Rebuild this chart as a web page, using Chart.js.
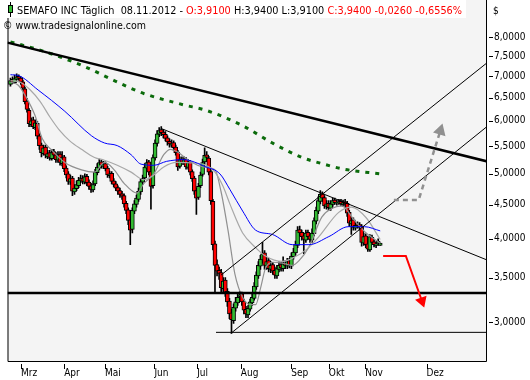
<!DOCTYPE html>
<html><head><meta charset="utf-8">
<script src="https://cdn.jsdelivr.net/npm/chart.js@4.4.1/dist/chart.umd.min.js"></script>
<style>html,body{margin:0;padding:0;background:#fff;}canvas{display:block;}</style>
</head><body>
<canvas id="c" width="530" height="380"></canvas>
<script>
// ---- data (bar index 0 = first session shown, ~20 Feb 2012; last = 08.11.2012) ----
const opens=[6.80,6.92,6.84,6.92,6.99,6.95,6.86,6.70,6.42,6.22,
5.92,6.02,5.86,5.95,5.70,5.52,5.36,5.48,5.30,5.38,
5.27,5.40,5.34,5.24,5.35,5.18,5.30,5.10,5.00,4.86,
4.93,4.70,4.75,4.80,4.88,4.93,4.86,4.96,4.86,4.80,
4.73,4.83,5.02,5.10,5.21,5.13,5.18,5.10,4.97,5.01,
4.88,4.83,4.77,4.72,4.67,4.64,4.52,4.42,4.27,4.13,
4.40,4.50,4.58,4.70,4.86,4.93,5.10,5.21,5.04,4.80,
5.28,5.55,5.73,5.82,5.77,5.73,5.66,5.59,5.52,5.57,
5.48,5.39,5.13,5.26,5.19,5.26,5.11,5.21,5.04,4.93,
4.72,4.61,4.80,4.99,5.21,5.34,5.28,5.04,4.55,3.93,
3.66,3.59,3.56,3.37,3.47,3.34,3.23,3.10,3.02,3.15,
3.21,3.28,3.31,3.23,3.14,3.08,3.14,3.21,3.26,3.39,
3.52,3.64,3.72,3.81,3.64,3.71,3.60,3.66,3.59,3.52,
3.60,3.66,3.61,3.68,3.64,3.71,3.64,3.76,3.81,3.91,
4.13,4.09,4.04,3.98,4.09,4.04,3.98,4.07,4.25,4.40,
4.55,4.67,4.61,4.47,4.52,4.44,4.50,4.57,4.52,4.53,
4.55,4.50,4.54,4.52,4.38,4.21,4.27,4.15,4.20,4.20,
4.17,3.94,4.04,3.93,3.85,4.02,3.96,3.91,3.94,3.91];
const highs=[6.95,6.98,7.02,7.05,7.03,6.98,6.90,6.74,6.48,6.26,
6.06,6.08,6.02,5.99,5.74,5.56,5.52,5.52,5.42,5.42,
5.44,5.44,5.38,5.40,5.40,5.40,5.33,5.14,5.04,4.98,
4.96,4.82,4.88,4.94,4.98,4.97,5.00,4.99,4.90,4.84,
4.88,5.08,5.18,5.26,5.24,5.22,5.21,5.13,5.05,5.04,
4.92,4.87,4.80,4.76,4.71,4.67,4.55,4.45,4.30,4.45,
4.56,4.65,4.76,4.92,4.98,5.18,5.25,5.24,5.08,5.34,
5.62,5.80,5.86,5.88,5.82,5.78,5.70,5.64,5.62,5.60,
5.52,5.42,5.30,5.30,5.30,5.29,5.25,5.24,5.07,4.96,
4.76,4.84,5.03,5.26,5.47,5.40,5.31,5.07,4.58,3.97,
3.72,3.63,3.60,3.50,3.50,3.37,3.26,3.14,3.20,3.27,
3.31,3.34,3.33,3.25,3.17,3.18,3.25,3.31,3.44,3.57,
3.70,3.78,3.95,3.84,3.75,3.74,3.70,3.69,3.63,3.65,
3.70,3.69,3.76,3.71,3.74,3.74,3.81,3.87,3.97,4.17,
4.18,4.12,4.08,4.12,4.12,4.07,4.14,4.30,4.46,4.62,
4.72,4.70,4.64,4.56,4.56,4.56,4.60,4.60,4.57,4.58,
4.58,4.57,4.58,4.55,4.41,4.31,4.30,4.23,4.24,4.23,
4.20,4.08,4.07,3.96,4.06,4.05,3.99,3.96,4.00,3.94];
const lows=[6.76,6.82,6.82,6.90,6.90,6.80,6.66,6.36,6.18,5.88,
5.88,5.84,5.82,5.64,5.44,5.30,5.33,5.28,5.27,5.24,
5.24,5.28,5.20,5.20,5.15,5.14,5.04,4.93,4.82,4.82,
4.64,4.66,4.72,4.77,4.85,4.83,4.83,4.80,4.74,4.69,
4.70,4.80,4.98,5.07,5.10,5.09,5.05,4.94,4.93,4.83,
4.78,4.72,4.66,4.61,4.58,4.46,4.36,4.20,3.92,4.08,
4.36,4.46,4.55,4.66,4.82,4.90,5.06,4.98,4.43,4.76,
5.24,5.50,5.68,5.70,5.66,5.60,5.52,5.48,5.48,5.42,
5.33,5.06,5.10,5.16,5.16,5.08,5.08,4.98,4.87,4.66,
4.35,4.58,4.77,4.96,5.17,5.24,4.98,4.50,3.85,3.32,
3.52,3.48,3.33,3.33,3.28,3.17,3.04,2.89,2.99,3.12,
3.18,3.24,3.18,3.09,3.05,3.05,3.12,3.18,3.24,3.36,
3.49,3.60,3.68,3.60,3.60,3.57,3.56,3.54,3.49,3.49,
3.57,3.58,3.58,3.61,3.61,3.62,3.61,3.73,3.78,3.88,
4.04,3.98,3.80,3.95,3.99,3.95,3.95,4.04,4.21,4.36,
4.51,4.55,4.44,4.43,4.41,4.41,4.47,4.50,4.49,4.50,
4.48,4.47,4.47,4.32,4.17,4.06,4.12,4.12,4.15,4.12,
3.90,3.91,3.88,3.83,3.83,3.92,3.89,3.88,3.91,3.91];
const closes=[6.89,6.85,6.94,6.98,6.94,6.85,6.71,6.41,6.24,5.94,
6.00,5.88,5.96,5.69,5.51,5.38,5.47,5.33,5.36,5.29,
5.38,5.33,5.25,5.34,5.20,5.29,5.09,4.98,4.87,4.92,
4.71,4.76,4.82,4.89,4.92,4.87,4.95,4.85,4.79,4.74,
4.82,5.03,5.12,5.20,5.15,5.17,5.09,4.98,5.00,4.87,
4.82,4.76,4.71,4.66,4.63,4.51,4.41,4.26,4.12,4.41,
4.51,4.60,4.71,4.87,4.92,5.12,5.20,5.03,4.79,5.29,
5.56,5.74,5.80,5.76,5.72,5.65,5.58,5.54,5.56,5.47,
5.38,5.12,5.25,5.20,5.25,5.12,5.20,5.03,4.92,4.71,
4.60,4.79,4.98,5.20,5.33,5.29,5.03,4.56,3.92,3.65,
3.58,3.55,3.38,3.46,3.33,3.22,3.09,3.03,3.16,3.22,
3.27,3.30,3.22,3.13,3.09,3.15,3.22,3.27,3.40,3.53,
3.65,3.73,3.80,3.65,3.70,3.61,3.65,3.58,3.53,3.61,
3.65,3.62,3.67,3.65,3.70,3.65,3.77,3.82,3.92,4.12,
4.08,4.03,3.99,4.08,4.03,3.99,4.08,4.26,4.41,4.56,
4.66,4.60,4.48,4.51,4.45,4.51,4.56,4.53,4.53,4.54,
4.51,4.53,4.51,4.37,4.22,4.26,4.16,4.19,4.19,4.16,
3.95,4.03,3.92,3.86,4.03,3.95,3.92,3.93,3.97,3.94];

// moving averages: [bar index, price]
const ma200=[[0,7.87],[16.7,7.61],[35.9,7.23],[50.2,6.89],[64.6,6.59],[83.7,6.34],[94.7,6.22],[112.4,5.90],[126.8,5.56],[141.1,5.29],[150.7,5.18],[161.7,5.08],[179,5.00]];
const ma50=[[0,7.03],[3.8,7.01],[13.4,6.67],[26.3,6.20],[39.2,5.70],[45.5,5.56],[51.7,5.51],[58.4,5.34],[63.2,5.17],[69.4,5.15],[75.6,5.22],[83.7,5.25],[94.7,5.12],[101.4,5.00],[106.2,4.74],[112.4,4.40],[118.7,4.12],[126.8,4.06],[136.4,3.92],[144.5,3.92],[154.1,4.03],[163.6,4.17],[171.3,4.17],[179,4.11]];
const ma20=[[0,6.89],[4.8,6.85],[9.6,6.67],[14.4,6.41],[19.1,6.08],[23.9,5.80],[28.7,5.60],[34.4,5.44],[40.7,5.29],[45.5,5.24],[51.7,5.15],[58.4,5.03],[64.6,4.90],[69.4,4.98],[74.2,5.12],[80.4,5.20],[88.5,5.19],[94.7,5.15],[99,5.03],[102.9,4.79],[106.2,4.51],[112.4,4.08],[118.7,3.88],[123.4,3.77],[131.6,3.70],[137.8,3.76],[143.5,3.86],[149.3,4.03],[158.9,4.38],[165.1,4.46],[172.2,4.30],[179,3.99]];
const ma10=[[0,6.85],[3.8,6.78],[7.2,6.54],[12,6.10],[15.3,5.65],[20.1,5.42],[26.3,5.20],[34.4,5.07],[40.7,5.03],[45.5,5.20],[50.2,5.07],[55,4.84],[61.2,4.68],[64.6,4.84],[69.4,5.00],[74.2,5.34],[77.5,5.44],[81.3,5.38],[86.1,5.24],[93.3,5.12],[99,5.07],[101.9,4.71],[105.3,4.12],[108.6,3.55],[112.4,3.27],[116.3,3.19],[118.7,3.19],[121.1,3.38],[123.4,3.61],[126.8,3.69],[131.6,3.68],[136.4,3.65],[139.7,3.71],[144.5,3.89],[150.7,4.31],[155.5,4.44],[160.3,4.48],[166.5,4.26],[172.2,4.08],[179,3.94]];

// drawn trend lines: [bar index, price]
const longDownTrend=[[-1.44,7.85],[230.6,5.22]];
const juneDownTrend=[[73.2,5.84],[230.6,3.72]];
const channelUpper=[[101.9,3.53],[230.6,7.32]];
const channelLower=[[106.7,2.89],[230.6,5.88]];
const supportThick=[[-1.44,3.32],[230.6,3.32]];
const supportLow=[[99.5,2.90],[230.6,2.90]];
const redArrow=[[180.4,3.77],[191.4,3.77],[199.2,3.23]];
const grayArrow=[[185.6,4.57],[197.6,4.57],[208.1,5.80]];

// axes
const yTicks=[3,3.5,4,4.5,5,5.5,6,6.5,7,7.5,8];
const monthIdx=[5.1,26,45.8,69.7,90.4,111.5,135.9,154.1,171.8,201.4];
const monthLabels=['Mrz','Apr','Mai','Jun','Jul','Aug','Sep','Okt','Nov','Dez'];

// header text pieces
const headerParts=[['SEMAFO INC Täglich  08.11.2012 - ','#000'],['O:3,9100 ','#ff0000'],['H:3,9400 L:3,9100 ','#000'],['C:3,9400 -0,0260 -0,6556%','#ff0000']];

// ---- build ----
const FONT="'DejaVu Sans Condensed','DejaVu Sans',sans-serif";
const idx=closes.map((_,k)=>k);
const bodies=idx.map(k=>({x:k,y:[opens[k],closes[k]]}));
const wicks=idx.map(k=>({x:k,y:[lows[k],highs[k]]}));
const bodyColors=idx.map(k=>closes[k]>=opens[k]?'#33bb33':'#ff0000');
const pts=a=>a.map(p=>({x:p[0],y:p[1]}));
const lineDs=(data,color,width,extra)=>Object.assign({type:'line',data:pts(data),borderColor:color,borderWidth:width,pointRadius:0,fill:false,tension:0,order:2},extra||{});

function fitText(ctx,parts,x0,x1,y){
  const total=parts.reduce((s,p)=>s+ctx.measureText(p[0]).width,0);
  const sx=(x1-x0)/total;
  ctx.save();ctx.translate(x0,y);ctx.scale(sx,1);
  let x=0;
  parts.forEach(p=>{ctx.fillStyle=p[1];ctx.fillText(p[0],x,0);x+=ctx.measureText(p[0]).width;});
  ctx.restore();
}

const framePlugin={
  id:'frame',
  beforeDraw(chart){
    const {ctx,chartArea:a}=chart;
    ctx.save();
    ctx.fillStyle='#fff';ctx.fillRect(0,0,chart.width,chart.height);
    ctx.fillStyle='#f4f4f4';ctx.fillRect(a.left,0,a.right-a.left,a.bottom);
    ctx.restore();
  },
  afterDraw(chart){
    const {ctx,chartArea:a,scales}=chart;
    ctx.save();
    ctx.strokeStyle='#000';ctx.lineWidth=1;
    ctx.beginPath();
    ctx.moveTo(a.left+0.5,0);ctx.lineTo(a.left+0.5,a.bottom+0.5);
    ctx.lineTo(a.right+0.5,a.bottom+0.5);ctx.lineTo(a.right+0.5,0);
    ctx.stroke();
    ctx.beginPath();
    scales.y.ticks.forEach(t=>{const y=Math.round(scales.y.getPixelForValue(t.value))+0.5;ctx.moveTo(a.right+3,y);ctx.lineTo(a.right+7,y);});
    scales.x.ticks.forEach(t=>{const x=Math.round(scales.x.getPixelForValue(t.value))+0.5;ctx.moveTo(x,a.bottom+3);ctx.lineTo(x,a.bottom+8);});
    ctx.stroke();
    // header
    ctx.fillStyle='#fff';ctx.fillRect(0,0,466,18);
    ctx.beginPath();ctx.moveTo(10.5,2);ctx.lineTo(10.5,17);ctx.stroke();
    ctx.fillStyle='#33bb33';ctx.fillRect(8,5,5,8);
    ctx.strokeRect(8.5,5.5,4,7);
    ctx.font='11px '+FONT;ctx.textBaseline='alphabetic';
    fitText(ctx,headerParts,17,462,14);
    fitText(ctx,[['© www.tradesignalonline.com','#000']],3,146,29);
    ctx.font='10px '+FONT;ctx.fillStyle='#000';
    ctx.fillText('$',493,14);
    ctx.restore();
  }
};

new Chart(document.getElementById('c'),{
  type:'bar',
  data:{datasets:[
    {label:'wicks',data:wicks,backgroundColor:'#000',borderWidth:0,barThickness:1,grouped:false,order:10},
    {label:'bodies',data:bodies,backgroundColor:bodyColors,borderColor:'#000',borderWidth:1,borderSkipped:false,barThickness:4,grouped:false,order:9},
    lineDs(ma20,'#a8a8a8',1.2,{order:6,cubicInterpolationMode:'monotone'}),
    lineDs(ma10,'#909090',1.2,{order:6,cubicInterpolationMode:'monotone'}),
    lineDs(ma50,'#0000ff',1,{order:5,cubicInterpolationMode:'monotone'}),
    lineDs(ma200,'#0b6b0b',3,{order:5,borderDash:[4,6],cubicInterpolationMode:'monotone'}),
    lineDs(longDownTrend,'#000',2.5),
    lineDs(juneDownTrend,'#000',1),
    lineDs(channelUpper,'#000',1),
    lineDs(channelLower,'#000',1),
    lineDs(supportThick,'#000',2.5),
    lineDs(supportLow,'#000',1),
    lineDs(redArrow,'#ff0000',2,{order:1,pointRadius:[0,0,5],pointStyle:'triangle',rotation:[0,0,161],pointBackgroundColor:'#ff0000',pointBorderColor:'#ff0000'}),
    lineDs(grayArrow,'#909090',2.5,{order:1,borderDash:[5,4],pointRadius:[0,0,5],pointStyle:'triangle',rotation:[0,0,17],pointBackgroundColor:'#909090',pointBorderColor:'#909090'})
  ]},
  options:{
    responsive:false,animation:false,devicePixelRatio:1,
    layout:{padding:{left:2,top:1,right:0,bottom:0}},
    plugins:{legend:{display:false},tooltip:{enabled:false}},
    scales:{
      x:{type:'linear',min:-1.436,max:230.2,offset:false,bounds:'data',
        grid:{display:false,drawTicks:false},border:{display:false},
        afterBuildTicks:s=>{s.ticks=monthIdx.map(v=>({value:v}));},
        afterFit:s=>{s.height=19;},
        ticks:{autoSkip:false,maxRotation:0,align:'start',padding:6,color:'#000',font:{family:FONT,size:10},callback:(v,i)=>monthLabels[i]}},
      y:{type:'logarithmic',position:'right',min:2.628,max:8.662,bounds:'data',
        grid:{display:false,drawTicks:false},border:{display:false},
        afterBuildTicks:s=>{s.ticks=yTicks.map(v=>({value:v}));},
        afterFit:s=>{s.width=44;},
        ticks:{padding:8,color:'#000',font:{family:FONT,size:10},callback:v=>Number(v).toFixed(4).replace('.',',')}}
    }
  },
  plugins:[framePlugin]
});
</script>
</body></html>
